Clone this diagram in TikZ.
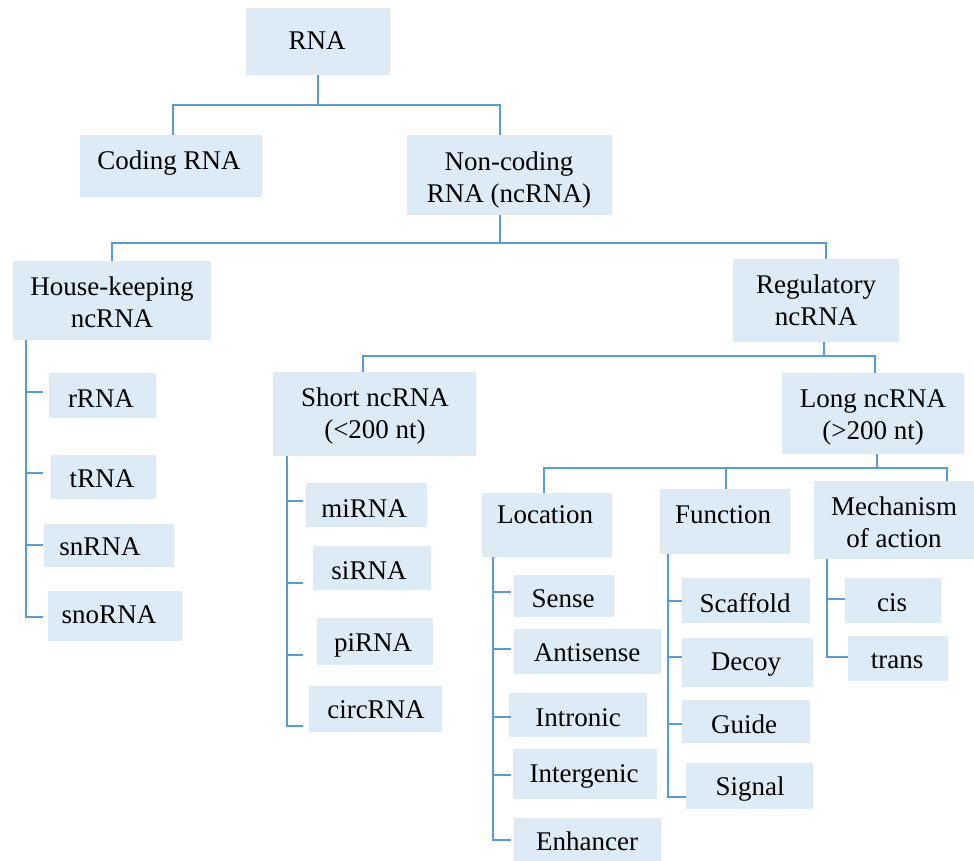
\documentclass[tikz,border=0pt]{standalone}
\usepackage{fontspec}
\setmainfont{Liberation Serif}
\definecolor{boxfill}{RGB}{221,235,247}
\definecolor{linec}{RGB}{91,155,213}
\newcommand\twol[2]{\begin{tabular}[t]{@{}c@{}}#1\\#2\end{tabular}}
% box by corners: name, x1, y1, x2, y2 (pixel units, y downward)
\newcommand\bx[5]{\node[box, minimum width={#4-#2}, minimum height={#5-#3}] (#1) at ({(#2+#4)/2},{(#3+#5)/2}) {};}
\begin{document}
\begin{tikzpicture}[x=1pt, y=-1pt,
  box/.style={rectangle, fill=boxfill, draw=none, inner sep=0pt},
  lbl/.style={anchor=base, inner sep=0pt, text=black, font=\fontsize{27}{32}\selectfont},
  conn/.style={draw=linec, line width=2pt}]
\useasboundingbox (0,0) rectangle (974,861);

% ---------- boxes ----------
\bx{rna}{246}{8}{390}{75}
\bx{coding}{80}{135}{262}{197}
\bx{noncoding}{407}{135}{612}{215}
\bx{hk}{13}{261}{211}{340}
\bx{reg}{733}{259}{899}{342}
\bx{short}{273}{372}{476}{456}
\bx{long}{782}{373}{964}{454}
\bx{loc}{482}{493}{612}{557}
\bx{func}{660}{489}{790}{554}
\bx{mech}{814}{481}{974}{559}
\bx{rrna}{49}{373}{156}{418}
\bx{trna}{51}{455}{156}{499}
\bx{snrna}{44}{524}{174}{567}
\bx{snorna}{48}{591}{182}{641}
\bx{mirna}{306}{483}{427}{527}
\bx{sirna}{313}{546}{431}{590}
\bx{pirna}{317}{618}{433}{665}
\bx{circrna}{309}{686}{442}{732}
\bx{sense}{514}{575}{614}{617}
\bx{antisense}{514}{629}{661}{674}
\bx{intronic}{509}{693}{647}{737}
\bx{intergenic}{513}{749}{657}{799}
\bx{enhancer}{514}{818}{661}{866}
\bx{scaffold}{682}{578}{810}{623}
\bx{decoy}{682}{638}{813}{687}
\bx{guide}{682}{700}{810}{743}
\bx{signal}{686}{763}{813}{809}
\bx{cis}{845}{578}{941}{623}
\bx{trans}{848}{636}{948}{681}

% ---------- labels ----------
\node[lbl] (rna-t) at (317,50) {RNA};
\node[lbl] (coding-t) at (169,170) {Coding RNA};
\node[lbl] (noncoding-t) at (509,171) {\twol{Non-coding}{RNA (ncRNA)}};
\node[lbl] (hk-t) at (112,295) {\twol{House-keeping}{ncRNA}};
\node[lbl] (reg-t) at (816,293) {\twol{Regulatory}{ncRNA}};
\node[lbl] (short-t) at (375,406) {\twol{Short ncRNA}{(<200 nt)}};
\node[lbl] (long-t) at (873,407) {\twol{Long ncRNA}{(>200 nt)}};
\node[lbl] (loc-t) at (545,523) {Location};
\node[lbl] (func-t) at (723,523) {Function};
\node[lbl] (mech-t) at (894,515) {\twol{Mechanism}{of action}};
\node[lbl] (rrna-t) at (101,407) {rRNA};
\node[lbl] (trna-t) at (102,487) {tRNA};
\node[lbl] (snrna-t) at (100,555) {snRNA};
\node[lbl] (snorna-t) at (109,623) {snoRNA};
\node[lbl] (mirna-t) at (364,517) {miRNA};
\node[lbl] (sirna-t) at (369,579) {siRNA};
\node[lbl] (pirna-t) at (373,651) {piRNA};
\node[lbl] (circrna-t) at (376,718) {circRNA};
\node[lbl] (sense-t) at (563,607) {Sense};
\node[lbl] (antisense-t) at (587,661) {Antisense};
\node[lbl] (intronic-t) at (578,726) {Intronic};
\node[lbl] (intergenic-t) at (584,782) {Intergenic};
\node[lbl] (enhancer-t) at (587,850) {Enhancer};
\node[lbl] (scaffold-t) at (745,612) {Scaffold};
\node[lbl] (decoy-t) at (746,670) {Decoy};
\node[lbl] (guide-t) at (744,733) {Guide};
\node[lbl] (signal-t) at (750,795) {Signal};
\node[lbl] (cis-t) at (892,611) {cis};
\node[lbl] (trans-t) at (897,668) {trans};

% ---------- tree connectors ----------
\coordinate (j0) at (318,105);
\draw[conn] (rna.south) -- (j0);
\draw[conn] (coding.north -| 173,0) |- (j0) -| (noncoding.north -| 500,0);

\coordinate (j1) at (500,243);
\draw[conn] (noncoding.south -| j1) -- (j1);
\draw[conn] (hk.north -| 112,0) |- (j1) -| (reg.north -| 826,0);

\coordinate (j2) at (824,356);
\draw[conn] (reg.south -| j2) -- (j2);
\draw[conn] (short.north -| 363,0) |- (j2) -| (long.north -| 875,0);

\coordinate (j3) at (877,468);
\coordinate (j3f) at (726,468);
\draw[conn] (long.south -| j3) -- (j3);
\draw[conn] (loc.north -| 544,0) |- (j3) -| (mech.north -| 947,0);
\draw[conn] (func.north -| j3f) -- (j3f);

% ---------- house-keeping list ----------
\coordinate (hk1) at (43,392);
\coordinate (hk2) at (43,473);
\coordinate (hk3) at (43,545);
\coordinate (hk4) at (43,617);
\draw[conn] (hk.south -| 26,0) |- (hk4);
\draw[conn] (hk1 -| 26,0) -- (hk1);
\draw[conn] (hk2 -| 26,0) -- (hk2);
\draw[conn] (hk3 -| 26,0) -- (hk3);

% ---------- short ncRNA list ----------
\coordinate (sh1) at (303,501);
\coordinate (sh2) at (303,583);
\coordinate (sh3) at (303,655);
\coordinate (sh4) at (303,726);
\draw[conn] (short.south -| 287,0) |- (sh4);
\draw[conn] (sh1 -| 287,0) -- (sh1);
\draw[conn] (sh2 -| 287,0) -- (sh2);
\draw[conn] (sh3 -| 287,0) -- (sh3);

% ---------- location list ----------
\coordinate (lo1) at (511,592);
\coordinate (lo2) at (511,649);
\coordinate (lo3) at (511,717);
\coordinate (lo4) at (511,775);
\coordinate (lo5) at (511,840);
\draw[conn] (loc.south -| 493,0) |- (lo5);
\draw[conn] (lo1 -| 493,0) -- (lo1);
\draw[conn] (lo2 -| 493,0) -- (lo2);
\draw[conn] (lo3 -| 493,0) -- (lo3);
\draw[conn] (lo4 -| 493,0) -- (lo4);

% ---------- function list ----------
\coordinate (fu1) at (682,601);
\coordinate (fu2) at (682,657);
\coordinate (fu3) at (682,724);
\coordinate (fu4) at (686,797);
\draw[conn] (func.south -| 668,0) |- (fu4);
\draw[conn] (fu1 -| 668,0) -- (fu1);
\draw[conn] (fu2 -| 668,0) -- (fu2);
\draw[conn] (fu3 -| 668,0) -- (fu3);

% ---------- mechanism list ----------
\coordinate (me1) at (845,599);
\coordinate (me2) at (848,657);
\draw[conn] (mech.south -| 827,0) |- (me2);
\draw[conn] (me1 -| 827,0) -- (me1);
\end{tikzpicture}
\end{document}
